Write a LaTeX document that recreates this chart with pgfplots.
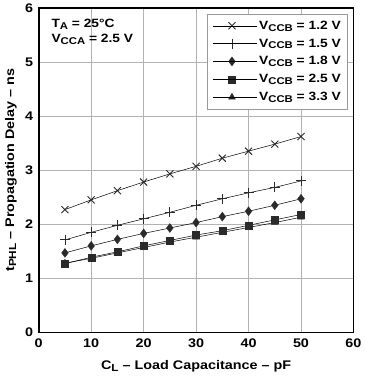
\documentclass[border=0pt]{standalone}
\usepackage{pgfplots}
\pgfplotsset{compat=1.18}
\usepackage{graphicx}
\usepackage{fontspec}
\setmainfont{Liberation Sans}[FakeStretch=1.15]
\definecolor{mk}{HTML}{2A2A2A}
\newcommand\sub[1]{\raisebox{-0.3ex}{\scalebox{0.82}{#1}}}
\begin{document}
\begin{tikzpicture}
\begin{axis}[
  scale only axis, width=315pt, height=325pt,
  xmin=0, xmax=60, ymin=0, ymax=6,
  xtick={0,10,...,60}, ytick={0,1,...,6},
  grid=major, major grid style={gray!60, line width=0.6pt},
  axis line style={line width=1.6pt},
  tick style={draw=none},
  /pgf/number format/assume math mode=true,
  ticklabel style={font=\bfseries\fontsize{12.5}{13}\selectfont},
  xticklabel style={yshift=-3pt},
  yticklabel style={xshift=-2pt},
  label style={font=\bfseries\fontsize{12.5}{14}\selectfont},
  xlabel={C\sub{L} – Load Capacitance – pF},
  ylabel={t\sub{PHL} – Propagation Delay – ns},
  xlabel style={yshift=-4pt, inner ysep=5pt},
  ylabel style={yshift=0pt, inner ysep=5pt},
  legend style={at={(rel axis cs:0.983,0.982)}, anchor=north east,
    draw=gray!80, line width=0.6pt, fill=white,
    font=\bfseries\fontsize{12}{13}\selectfont,
    row sep=4pt, inner xsep=5pt, inner ysep=5pt},
  legend cell align=left,
  legend image code/.code={\draw[mark repeat=2,mark phase=2,#1] plot coordinates {(0pt,0pt) (19pt,0pt) (38pt,0pt)}; \path (0pt,0pt) -- (44pt,0pt);},
]
\addplot[black, line width=0.5pt, mark=x, mark size=5pt, mark options={draw=mk, line width=0.9pt}] coordinates {
(5,2.27) (10,2.45) (15,2.62) (20,2.78) (25,2.93) (30,3.07) (35,3.22) (40,3.35) (45,3.48) (50,3.62)};
\addlegendentry{V\sub{CCB} = 1.2 V}
\addplot[black, line width=0.5pt, mark=+, mark size=5pt, mark options={draw=mk, line width=0.9pt}] coordinates {
(5,1.71) (10,1.85) (15,1.98) (20,2.10) (25,2.22) (30,2.35) (35,2.47) (40,2.58) (45,2.68) (50,2.80)};
\addlegendentry{V\sub{CCB} = 1.5 V}
\addplot[black, line width=0.5pt, mark=diamond*, mark size=4.5pt, mark options={draw=mk, fill=mk, line width=0.3pt}] coordinates {
(5,1.47) (10,1.60) (15,1.72) (20,1.83) (25,1.93) (30,2.03) (35,2.14) (40,2.24) (45,2.35) (50,2.47)};
\addlegendentry{V\sub{CCB} = 1.8 V}
\addplot[black, line width=0.5pt, mark=triangle*, mark size=4pt, mark options={draw=mk, fill=mk, line width=0.3pt}, forget plot] coordinates {
(5,1.28) (10,1.37) (15,1.47) (20,1.57) (25,1.67) (30,1.76) (35,1.85) (40,1.94) (45,2.03) (50,2.13)};
\addplot[black, line width=0.5pt, mark=square*, mark size=3.5pt, mark options={draw=mk, fill=mk, line width=0.3pt}] coordinates {
(5,1.27) (10,1.39) (15,1.49) (20,1.60) (25,1.70) (30,1.80) (35,1.88) (40,1.98) (45,2.08) (50,2.18)};
\addlegendentry{V\sub{CCB} = 2.5 V}
\addlegendimage{black, line width=0.5pt, mark=triangle*, mark size=4pt, mark options={draw=mk, fill=mk, line width=0.3pt}}
\addlegendentry{V\sub{CCB} = 3.3 V}
\node[anchor=north west, align=left, font=\bfseries\fontsize{12}{15}\selectfont, inner sep=0pt] at (rel axis cs:0.04,0.965)
  {T\sub{A} = 25°C\\V\sub{CCA} = 2.5 V};
\end{axis}
\end{tikzpicture}
\end{document}
